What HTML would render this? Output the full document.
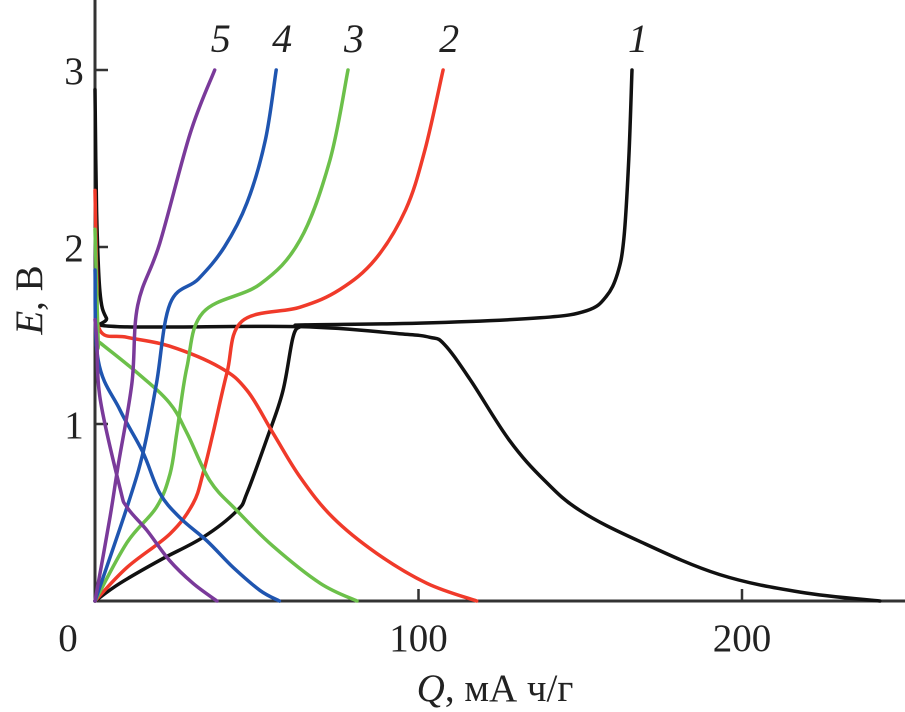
<!DOCTYPE html>
<html><head><meta charset="utf-8"><style>
html,body{margin:0;padding:0;background:#fff;width:905px;height:712px;overflow:hidden}
text{font-family:"Liberation Serif",serif;fill:#222}
</style></head><body>
<svg id="chart" width="905" height="712" viewBox="0 0 905 712" xmlns="http://www.w3.org/2000/svg"></svg>
<script>
const xTicks=[0,100,200];
const yTicks=[1,2,3];
const xTickLabels=["0","100","200"];
const yTickLabels=["1","2","3"];
const seriesNames=["1","2","3","4","5"];
const seriesColors=["#111","#f03a2a","#6cc04a","#1f55b0","#7a3a9a"];
const chargeQ=[
[0,7.7,20,33.4,43.9,47,53,58,61.2,63.4,65,100.5,137.6,152,158,161.5,163.5,165,166],
[0,9.9,23.2,30.3,33.4,36.5,40.8,45.4,63.4,75.7,86.6,96,102,107.6],
[0,9.9,19,23.2,25.3,28.4,33.4,51,63.4,72.6,78.2],
[0,9.9,15,19,23.2,32,40,47,52.6,56],
[0,4.6,7.1,11.4,13.2,20,29.4,37]];
const chargeE=[
[0,0.10,0.23,0.36,0.51,0.61,0.91,1.18,1.49,1.55,1.56,1.57,1.60,1.64,1.72,1.85,2.05,2.5,3.0],
[0,0.19,0.38,0.55,0.72,0.95,1.29,1.58,1.66,1.76,1.93,2.21,2.55,3.0],
[0,0.33,0.53,0.72,0.95,1.32,1.63,1.79,2.04,2.49,3.0],
[0,0.53,0.85,1.23,1.68,1.82,2.0,2.25,2.6,3.0],
[0,0.47,0.76,1.23,1.67,2.02,2.64,3.0]];
const dischargeQ=[
[0,0.5,1.5,3.5,7,63.4,94,103.5,108,116,128,139,150,168,193,218,242.6],
[0,0.6,1.5,9.9,23,38.6,47,55,63.4,73.6,87,102.6,118],
[0,1,1.5,13,23,28.4,35.5,43.9,55,69.6,81],
[0,1,7.7,14.8,20,26.3,34.6,42.7,51,57],
[0,0.6,1.6,7.7,9.9,16,23,30.3,37.7]];
const dischargeE=[
[2.89,2.2,1.75,1.6,1.55,1.55,1.51,1.49,1.45,1.25,0.91,0.68,0.51,0.34,0.15,0.05,0],
[2.32,1.81,1.53,1.49,1.44,1.32,1.19,0.95,0.70,0.47,0.27,0.10,0],
[2.1,1.47,1.46,1.29,1.12,0.95,0.68,0.51,0.31,0.10,0],
[1.87,1.36,1.08,0.84,0.61,0.47,0.34,0.19,0.06,0],
[1.59,1.46,1.14,0.64,0.53,0.40,0.23,0.10,0]];
const X0=95,XS=3.235,Y0=601,YS=177;
const sx=q=>X0+q*XS, sy=e=>Y0-e*YS;
const svg=document.getElementById('chart');
const NS="http://www.w3.org/2000/svg";
function mk(t,a){const e=document.createElementNS(NS,t);for(const k in a)e.setAttribute(k,a[k]);svg.appendChild(e);return e;}
let ax=mk('path',{d:`M${X0} 0V${Y0}H905`,stroke:'#333','stroke-width':3,fill:'none'});


xTicks.forEach((v,i)=>{
 if(v>0){let t=mk('line',{x1:sx(v),x2:sx(v),y1:Y0,y2:Y0-12,stroke:'#333','stroke-width':2.5});
 
 }
 let l=mk('text',{x:v==0?68:sx(v),y:651,'font-size':39,'text-anchor':'middle'});l.textContent=xTickLabels[i];
 
 
});
yTicks.forEach((v,i)=>{
 let t=mk('line',{x1:X0,x2:X0+13,y1:sy(v),y2:sy(v),stroke:'#333','stroke-width':2.5});
 
 
 let l=mk('text',{x:74,y:sy(v)+14,'font-size':39,'text-anchor':'middle'});l.textContent=yTickLabels[i];
 
 
});
function line(qs,es,c,name){
 const P=qs.map((q,i)=>[sx(q),sy(es[i])]);
 let d='M'+P[0][0].toFixed(1)+' '+P[0][1].toFixed(1);
 const t=0.35;
 for(let i=0;i<P.length-1;i++){
  const p0=P[Math.max(0,i-1)],p1=P[i],p2=P[i+1],p3=P[Math.min(P.length-1,i+2)];
  const c1=[p1[0]+(p2[0]-p0[0])*t/2,p1[1]+(p2[1]-p0[1])*t/2];
  const c2=[p2[0]-(p3[0]-p1[0])*t/2,p2[1]-(p3[1]-p1[1])*t/2];
  d+=`C${c1[0].toFixed(1)} ${c1[1].toFixed(1)} ${c2[0].toFixed(1)} ${c2[1].toFixed(1)} ${p2[0].toFixed(1)} ${p2[1].toFixed(1)}`;
 }
 let p=mk('path',{d:d,stroke:c,'stroke-width':3.5,fill:'none','stroke-linejoin':'round','stroke-linecap':'round'});
 
 
}
for(let i=0;i<5;i++){
 line(dischargeQ[i],dischargeE[i],seriesColors[i],'discharge-curve-'+seriesNames[i]);
 line(chargeQ[i],chargeE[i],seriesColors[i],'charge-curve-'+seriesNames[i]);
 const last=chargeQ[i].length-1;
 let l=mk('text',{x:sx(chargeQ[i][last])+6,y:52,'font-size':40,'font-style':'italic','text-anchor':'middle'});
 l.textContent=seriesNames[i];
 
 
}
let xt=mk('text',{x:495,y:701,'font-size':39,'text-anchor':'middle'});
xt.innerHTML='<tspan font-style="italic">Q</tspan>, мА ч/г';


let yt=mk('text',{x:0,y:0,'font-size':39,'text-anchor':'middle',transform:'translate(42,300) rotate(-90)'});
yt.innerHTML='<tspan font-style="italic">E</tspan>, В';


</script>
</body></html>
